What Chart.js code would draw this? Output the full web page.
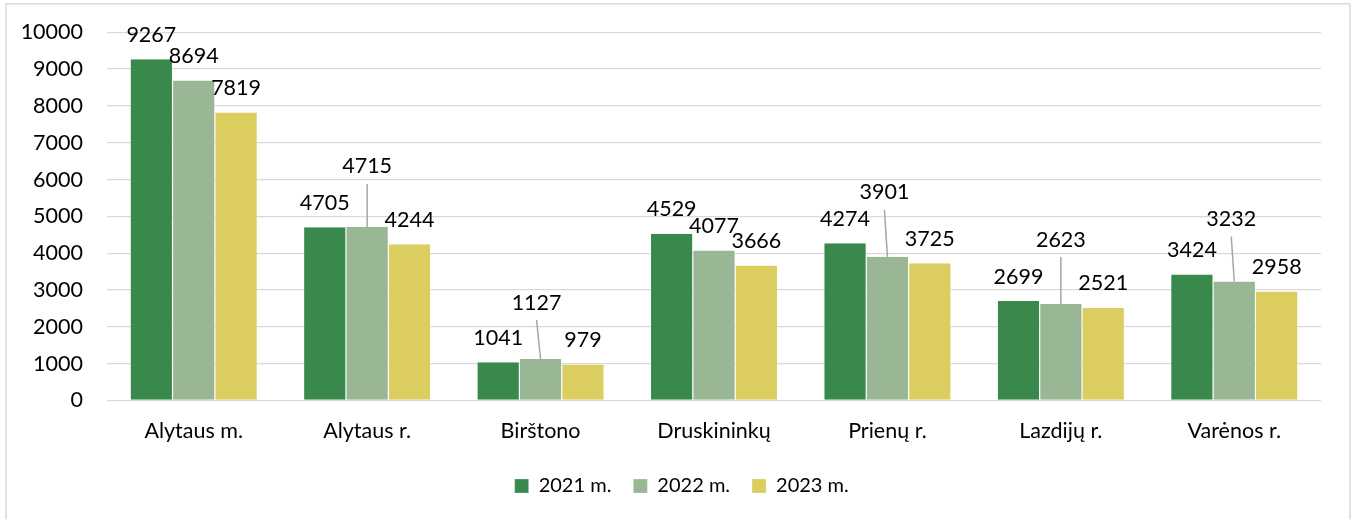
<!DOCTYPE html>
<html><head><meta charset="utf-8">
<script src="https://cdn.jsdelivr.net/npm/chart.js@4.4.1/dist/chart.umd.min.js"></script>
<style>html,body{margin:0;padding:0;background:#fff;overflow:hidden;} #wrap{position:relative;width:1356px;height:519px;}</style>
</head><body><div id="wrap"><canvas id="c"></canvas></div>
<script>
const categories = ['Alytaus m.', 'Alytaus r.', 'Birštono', 'Druskininkų', 'Prienų r.', 'Lazdijų r.', 'Varėnos r.'];
const seriesNames = ['2021 m.', '2022 m.', '2023 m.'];
const values2021 = [9267, 4705, 1041, 4529, 4274, 2699, 3424];
const values2022 = [8694, 4715, 1127, 4077, 3901, 2623, 3232];
const values2023 = [7819, 4244, 979, 3666, 3725, 2521, 2958];
const yMin = 0, yMax = 10000, yStep = 1000;

// label placement styling (pixels): extra lift and horizontal shift for the 2022 labels with leader lines
const labelLift2022 = [0, 36, 32, 0, 40, 40, 38];
const labelShift2022 = [0, 0, -4, 0, -3, 0, -3];

const colors = ['#38894b', '#99b794', '#dbcd5f'];
const FONT = 'Lato';
const FS = 21.5;

const labelPlugin = {
  id: 'barLabels',
  afterDatasetsDraw(chart) {
    const ctx = chart.ctx;
    ctx.save();
    ctx.font = FS + 'px ' + FONT;
    ctx.textAlign = 'center';
    ctx.textBaseline = 'alphabetic';
    chart.data.datasets.forEach((ds, di) => {
      const meta = chart.getDatasetMeta(di);
      meta.data.forEach((bar, j) => {
        const lift = (ds.labelLift || [])[j] || 0;
        const dx = (ds.labelShift || [])[j] || 0;
        const cx = bar.x + dx;
        const cy = bar.y - 25 - lift;
        if (lift > 0) {
          ctx.strokeStyle = '#a6a6a6';
          ctx.lineWidth = 1.5;
          ctx.beginPath();
          ctx.moveTo(cx, cy + 18);
          ctx.lineTo(bar.x, bar.y);
          ctx.stroke();
        }
        ctx.fillStyle = '#000';
        ctx.fillText(String(ds.data[j]), cx, cy + 7.6);
      });
    });
    ctx.restore();
  }
};

const borderPlugin = {
  id: 'outerBorder',
  afterLayout(chart) {
    // nudge legend so it is centred like the reference
    if (chart.legend) { chart.legend.left += 42.4; }
  },
  afterDraw(chart) {
    const ctx = chart.ctx;
    ctx.save();
    ctx.strokeStyle = '#d9d9d9';
    ctx.lineWidth = 1.5;
    ctx.beginPath();
    ctx.moveTo(6, 530); ctx.lineTo(6, 3.75); ctx.lineTo(1350, 3.75); ctx.lineTo(1350, 530);
    ctx.stroke();
    ctx.restore();
  }
};

const seriesValues = [values2021, values2022, values2023];
const datasets = seriesNames.map((name, i) => ({
  label: name,
  data: seriesValues[i],
  backgroundColor: colors[i],
  borderColor: 'rgba(255,255,255,0.85)',
  borderWidth: {left: 0.6, right: 0.6, top: 0, bottom: 0},
  borderSkipped: false,
  categoryPercentage: 0.733,
  barPercentage: 1.0,
  labelLift: i === 1 ? labelLift2022 : null,
  labelShift: i === 1 ? labelShift2022 : null
}));

Chart.defaults.font.family = FONT;
Chart.defaults.font.size = FS;
Chart.defaults.color = '#000';

new Chart(document.getElementById('c'), {
  type: 'bar',
  data: { labels: categories, datasets },
  options: {
    responsive: true,
    maintainAspectRatio: false,
    animation: false,
    layout: { padding: { top: 32.3, right: 35, bottom: 13, left: 0 } },
    plugins: {
      tooltip: { enabled: false },
      legend: {
        position: 'bottom',
        labels: { boxWidth: 14, boxHeight: 14, padding: 22, font: { size: 20, family: FONT }, color: '#000' }
      }
    },
    scales: {
      x: {
        grid: { display: false, drawTicks: false },
        border: { display: false },
        ticks: { padding: 18, font: { size: FS }, color: '#000', maxRotation: 0 },
        afterFit(scale) { scale.height = 53.5; scale.paddingLeft = 0; scale.paddingRight = 0; }
      },
      y: {
        min: yMin, max: yMax,
        grid: { color: '#d9d9d9', lineWidth: 1.3, drawTicks: false },
        border: { display: false },
        ticks: { stepSize: yStep, padding: 24, font: { size: FS }, color: '#000', callback: (v) => String(v) },
        afterFit(scale) { scale.width = 107; scale.paddingTop = 0; scale.paddingBottom = 0; }
      }
    }
  },
  plugins: [labelPlugin, borderPlugin]
});
</script>
</body></html>
